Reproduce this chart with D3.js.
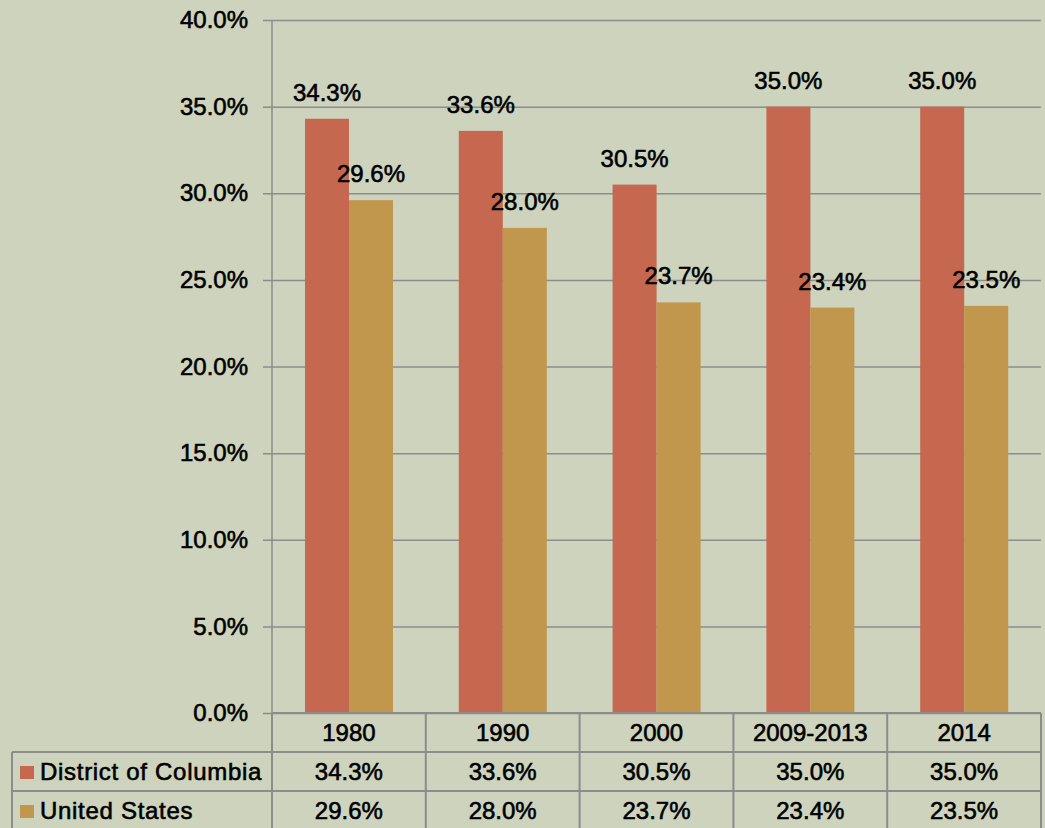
<!DOCTYPE html>
<html>
<head>
<meta charset="utf-8">
<script src="https://cdn.jsdelivr.net/npm/d3@7"></script>
<style>
  body { margin: 0; background: #cdd3bc; }
  svg { display: block; }
  text { font-family: "Liberation Sans", Arial, sans-serif; fill: #000; stroke: #000; stroke-width: 0.6px; }
</style>
</head>
<body>
<svg id="chart" width="1045" height="828"></svg>
<script>
// chart data
var years = ["1980", "1990", "2000", "2009-2013", "2014"];
var dcValues = [34.3, 33.6, 30.5, 35.0, 35.0];
var usValues = [29.6, 28.0, 23.7, 23.4, 23.5];
var seriesNames = ["District of Columbia", "United States"];
var seriesColors = ["#c5684f", "#c0974d"];
var yTicks = [0, 5, 10, 15, 20, 25, 30, 35, 40];

var svg = d3.select("#chart");
var margin = {top: 20, left: 272, right: 4, bottom: 115};
var width = 1045 - margin.left - margin.right,
    height = 828 - margin.top - margin.bottom;

var g = svg.append("g").attr("transform", "translate(" + margin.left + "," + margin.top + ")");

var x = d3.scaleBand().domain(years).range([0, width]);
var x1 = d3.scaleBand().domain(seriesNames).range([33, 33 + 88]);
var y = d3.scaleLinear().domain([0, 40]).range([height, 0]);

var fmt = function (d) { return d.toFixed(1) + "%"; };
var gridColor = "#8c8c8c";
var fs = "24px";

// horizontal gridlines + y axis
var yAxis = g.append("g")
  .call(d3.axisLeft(y).tickValues(yTicks).tickFormat(fmt).tickSize(-width - 9).tickPadding(14));
yAxis.select(".domain").remove();
yAxis.selectAll(".tick line")
  .attr("x1", -9).attr("x2", width)
  .attr("stroke", gridColor).attr("stroke-width", 1.5);
yAxis.selectAll(".tick text")
  .attr("x", -24)
  .style("font-size", fs).style("font-family", "Liberation Sans, Arial, sans-serif");

// vertical axis line
g.append("line")
  .attr("x1", 0).attr("x2", 0).attr("y1", 0).attr("y2", height)
  .attr("stroke", gridColor).attr("stroke-width", 1.5);

// bars
var data = years.map(function (yr, i) {
  return {year: yr, values: [dcValues[i], usValues[i]]};
});

var groups = g.selectAll(".grp").data(data).enter().append("g")
  .attr("class", "grp")
  .attr("transform", function (d) { return "translate(" + x(d.year) + ",0)"; });

groups.selectAll("rect").data(function (d) {
  return d.values.map(function (v, j) { return {name: seriesNames[j], v: v, j: j}; });
}).enter().append("rect")
  .attr("x", function (d) { return x1(d.name); })
  .attr("width", x1.bandwidth())
  .attr("y", function (d) { return y(d.v); })
  .attr("height", function (d) { return height - y(d.v); })
  .attr("fill", function (d) { return seriesColors[d.j]; });

// data labels
groups.selectAll(".lbl").data(function (d) {
  return d.values.map(function (v, j) { return {name: seriesNames[j], v: v, j: j}; });
}).enter().append("text")
  .attr("class", "lbl")
  .attr("x", function (d) { return x1(d.name) + x1.bandwidth() / 2; })
  .attr("y", function (d) { return y(d.v) - 18; })
  .attr("text-anchor", "middle")
  .style("font-size", fs)
  .text(function (d) { return fmt(d.v); });

// data table below the chart
var rowH = 39;
var tableTop = height;
var tableLeft = 12 - margin.left;
var tbl = g.append("g").attr("class", "table");

// header row (years)
tbl.selectAll(".yr").data(years).enter().append("text")
  .attr("x", function (d) { return x(d) + x.bandwidth() / 2; })
  .attr("y", tableTop + rowH / 2 + 8)
  .attr("text-anchor", "middle")
  .style("font-size", fs)
  .text(function (d) { return d; });

// value rows
var rows = [dcValues, usValues];
rows.forEach(function (vals, r) {
  var ry = tableTop + rowH * (r + 1);
  tbl.selectAll(".v" + r).data(vals).enter().append("text")
    .attr("x", function (d, i) { return x(years[i]) + x.bandwidth() / 2; })
    .attr("y", ry + rowH / 2 + 8)
    .attr("text-anchor", "middle")
    .style("font-size", fs)
    .text(function (d) { return fmt(d); });
  tbl.append("rect")
    .attr("x", tableLeft + 8).attr("y", ry + 14)
    .attr("width", 14).attr("height", 13)
    .attr("fill", seriesColors[r]);
  tbl.append("text")
    .attr("x", tableLeft + 28)
    .attr("y", ry + rowH / 2 + 8)
    .style("font-size", fs).style("letter-spacing", "0.7px")
    .text(seriesNames[r]);
});

// table lines
var lineAttrs = function (sel) { return sel.attr("stroke", gridColor).attr("stroke-width", 2); };
lineAttrs(tbl.append("line").attr("x1", 0).attr("x2", width).attr("y1", tableTop).attr("y2", tableTop));
[1, 2].forEach(function (k) {
  lineAttrs(tbl.append("line").attr("x1", tableLeft).attr("x2", width)
    .attr("y1", tableTop + rowH * k).attr("y2", tableTop + rowH * k));
});
lineAttrs(tbl.append("line").attr("x1", tableLeft).attr("x2", tableLeft)
  .attr("y1", tableTop + rowH).attr("y2", 828));
x.domain().concat(["end"]).forEach(function (d, i) {
  var xx = i < years.length ? x(d) : width;
  lineAttrs(tbl.append("line").attr("x1", xx).attr("x2", xx)
    .attr("y1", tableTop).attr("y2", 828));
});
</script>
</body>
</html>
